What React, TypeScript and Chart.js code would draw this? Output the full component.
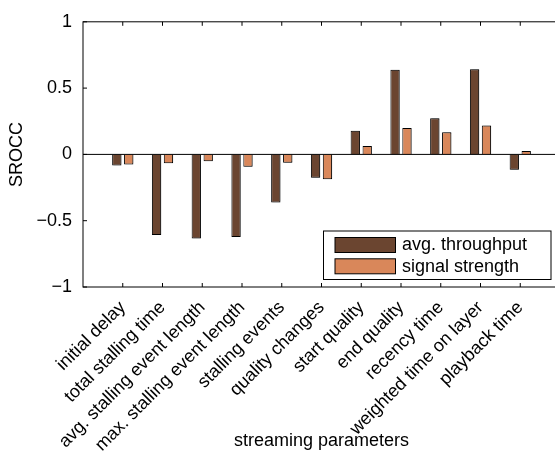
import React, { useEffect, useRef } from 'react';
import { Chart, registerables } from 'chart.js';

Chart.register(...registerables);

// Streaming parameters on the x axis
const categories = [
  'initial delay',
  'total stalling time',
  'avg. stalling event length',
  'max. stalling event length',
  'stalling events',
  'quality changes',
  'start quality',
  'end quality',
  'recency time',
  'weighted time on layer',
  'playback time',
];

// SROCC per parameter
const throughputValues = [-0.083, -0.608, -0.635, -0.622, -0.362, -0.176, 0.179, 0.638, 0.272, 0.643, -0.115];
const signalValues = [-0.076, -0.066, -0.051, -0.093, -0.063, -0.188, 0.064, 0.199, 0.167, 0.218, 0.025];

const seriesNames = ['avg. throughput', 'signal strength'];
const seriesColors = ['#6B4530', '#D9875A'];

const yTickValues = [-1, -0.5, 0, 0.5, 1];
const yTickLabels = ['\u22121', '\u22120.5', '0', '0.5', '1'];

const FONT = "'Liberation Sans', Arial, Helvetica, sans-serif";

// Empty slots at both ends give the axis a full category of room on each side
const paddedLabels = ['', ...categories, ''];
const pad = (arr: number[]) => [null, ...arr, null];

// Soft drop shadow to the right of each bar
const barShadowPlugin = {
  id: 'barShadow',
  beforeDatasetsDraw(chart: any) {
    const { ctx } = chart;
    ctx.save();
    ctx.shadowColor = 'rgba(0,0,0,0.28)';
    ctx.shadowOffsetX = 1.5;
    ctx.shadowOffsetY = 0;
    ctx.shadowBlur = 0.5;
  },
  afterDatasetsDraw(chart: any) {
    chart.ctx.restore();
  },
};

// Box frame, inward tick marks and the zero baseline
const framePlugin = {
  id: 'frame',
  afterDatasetsDraw(chart: any) {
    const { ctx, chartArea: a, scales } = chart;
    const x = scales.x;
    const y = scales.y;
    const tick = 4;
    ctx.save();
    ctx.strokeStyle = '#000';
    ctx.lineWidth = 1;
    // zero baseline
    const y0 = y.getPixelForValue(0);
    ctx.beginPath();
    ctx.moveTo(a.left, y0);
    ctx.lineTo(a.right, y0);
    ctx.stroke();
    // frame
    ctx.strokeRect(a.left, a.top, a.right - a.left, a.bottom - a.top);
    ctx.beginPath();
    for (let i = 1; i <= categories.length; i++) {
      const px = x.getPixelForValue(i);
      ctx.moveTo(px, a.bottom);
      ctx.lineTo(px, a.bottom - tick);
      ctx.moveTo(px, a.top);
      ctx.lineTo(px, a.top + tick);
    }
    for (const v of yTickValues) {
      const py = y.getPixelForValue(v);
      ctx.moveTo(a.left, py);
      ctx.lineTo(a.left + tick, py);
      ctx.moveTo(a.right, py);
      ctx.lineTo(a.right - tick, py);
    }
    ctx.stroke();
    ctx.restore();
  },
};

// Legend box in the lower right of the plot
const boxLegendPlugin = {
  id: 'boxLegend',
  afterDraw(chart: any) {
    const { ctx, chartArea: a } = chart;
    const left = a.left + 240.5;
    const bottom = a.bottom - 7.5;
    const width = 227.5;
    const height = 48.5;
    const top = bottom - height;
    ctx.save();
    ctx.fillStyle = '#fff';
    ctx.fillRect(left, top, width, height);
    ctx.strokeStyle = '#000';
    ctx.lineWidth = 1;
    ctx.strokeRect(left, top, width, height);
    ctx.font = `18px ${FONT}`;
    ctx.textBaseline = 'middle';
    ctx.textAlign = 'left';
    chart.data.datasets.forEach((ds: any, i: number) => {
      const rowTop = top + 6.5 + i * 21.3;
      ctx.fillStyle = ds.backgroundColor;
      ctx.fillRect(left + 11.5, rowTop, 60.5, 15);
      ctx.strokeStyle = '#000';
      ctx.strokeRect(left + 11.5, rowTop, 60.5, 15);
      ctx.fillStyle = '#000';
      ctx.fillText(ds.label, left + 78.5, rowTop + 8);
    });
    ctx.restore();
  },
};

export default function App() {
  const canvasRef = useRef<HTMLCanvasElement | null>(null);

  useEffect(() => {
    if (!canvasRef.current) return;
    Chart.defaults.color = '#000';
    const chart = new Chart(canvasRef.current, {
      type: 'bar',
      data: {
        labels: paddedLabels,
        datasets: [
          {
            label: seriesNames[0],
            data: pad(throughputValues),
            backgroundColor: seriesColors[0],
            borderColor: '#000',
            borderWidth: 1,
            categoryPercentage: 0.6,
            barPercentage: 0.78,
          },
          {
            label: seriesNames[1],
            data: pad(signalValues),
            backgroundColor: seriesColors[1],
            borderColor: '#000',
            borderWidth: 1,
            categoryPercentage: 0.6,
            barPercentage: 0.78,
          },
        ],
      },
      options: {
        animation: false,
        responsive: false,
        maintainAspectRatio: false,
        devicePixelRatio: 1,
        layout: { padding: { top: 16, right: 41, left: 0, bottom: 0 } },
        plugins: {
          legend: { display: false },
          tooltip: { enabled: false },
        },
        scales: {
          x: {
            type: 'category',
            offset: false,
            grid: { display: false, drawTicks: false },
            border: { display: false },
            ticks: {
              autoSkip: false,
              minRotation: 45,
              maxRotation: 45,
              padding: 10,
              color: '#000',
              font: { family: FONT, size: 18 },
            },
            title: {
              display: true,
              text: 'streaming parameters',
              color: '#000',
              font: { family: FONT, size: 18 },
              padding: { top: 0, bottom: 2 },
            },
            afterFit(scale: any) {
              scale.height = 454 - 287;
              scale.paddingLeft = 0;
              scale.paddingRight = 0;
            },
          },
          y: {
            min: -1,
            max: 1,
            grid: { display: false, drawTicks: false },
            border: { display: false },
            afterBuildTicks(scale: any) {
              scale.ticks = yTickValues.map((v) => ({ value: v }));
            },
            ticks: {
              padding: 11,
              color: '#000',
              font: { family: FONT, size: 18 },
              callback: (v: any) => {
                const i = yTickValues.indexOf(Number(v));
                return i >= 0 ? yTickLabels[i] : '';
              },
            },
            title: {
              display: true,
              text: 'SROCC',
              color: '#000',
              font: { family: FONT, size: 18 },
              padding: { top: 6, bottom: 0 },
            },
            afterFit(scale: any) {
              scale.width = 83;
            },
          },
        },
      },
      plugins: [barShadowPlugin, framePlugin, boxLegendPlugin],
    });
    return () => chart.destroy();
  }, []);

  return (
    <div style={{ position: 'fixed', left: 0, top: 0, width: 555, height: 454, overflow: 'hidden', background: '#fff' }}>
      <canvas ref={canvasRef} width={601} height={454} style={{ display: 'block', width: 601, height: 454 }} />
    </div>
  );
}
